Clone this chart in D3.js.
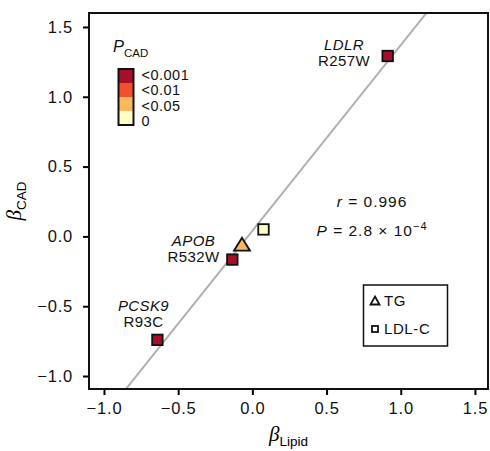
<!DOCTYPE html>
<html>
<head>
<meta charset="utf-8">
<script src="https://cdn.jsdelivr.net/npm/d3@7"></script>
<style>
  body { margin: 0; background: #fff; }
  svg { display: block; font-family: "Liberation Sans", Arial, sans-serif; }
</style>
</head>
<body>
<svg id="chart" width="490" height="451"></svg>
<script>
// ---- data ----
const variantGene   = ["LDLR", "APOB", "APOB", "", "PCSK9"];
const variantName   = ["R257W", "R532W", "", "", "R93C"];
const lipidType     = ["LDL-C", "LDL-C", "TG", "LDL-C", "LDL-C"];
const betaLipid     = [0.912, -0.135, -0.07, 0.075, -0.64];
const betaCAD       = [1.292, -0.166, -0.056, 0.05, -0.741];
const pBin          = ["<0.001", "<0.001", "<0.05", "0", "<0.001"];

const pBins   = ["<0.001", "<0.01", "<0.05", "0"];
const pColors = ["#a50f2a", "#f2502a", "#fdb95a", "#ffffc4"];
const xTicks  = [-1.0, -0.5, 0.0, 0.5, 1.0, 1.5];
const yTicks  = [-1.0, -0.5, 0.0, 0.5, 1.0, 1.5];
const fitSlope = 1.33, fitIntercept = 0.04;
const statR = "0.996";
const statP = "2.8";
const statPexp = "\u22124";

// ---- layout ----
const svg = d3.select("#chart");
const L = 89, R = 488, T = 13, B = 389;
const x = d3.scaleLinear().domain([-1.101, 1.588]).range([L, R]);
const y = d3.scaleLinear().domain([-1.093, 1.600]).range([B, T]);
const color = d3.scaleOrdinal().domain(pBins).range(pColors);
const fmt = d => d3.format(".1f")(d).replace("-", "\u2212");

// clip
svg.append("clipPath").attr("id", "clip").append("rect")
  .attr("x", L).attr("y", T).attr("width", R - L).attr("height", B - T);

// fit line
const lx = [-1.2, 1.7];
svg.append("line")
  .attr("clip-path", "url(#clip)")
  .attr("x1", x(lx[0])).attr("y1", y(fitSlope * lx[0] + fitIntercept))
  .attr("x2", x(lx[1])).attr("y2", y(fitSlope * lx[1] + fitIntercept))
  .attr("stroke", "#b0b0b0").attr("stroke-width", 2);

// axes
const xAxis = svg.append("g").attr("transform", `translate(0,${B})`)
  .call(d3.axisBottom(x).tickValues(xTicks).tickFormat(fmt).tickSize(6).tickPadding(7));
const yAxis = svg.append("g").attr("transform", `translate(${L},0)`)
  .call(d3.axisLeft(y).tickValues(yTicks).tickFormat(fmt).tickSize(6).tickPadding(10));
[xAxis, yAxis].forEach(g => {
  g.select(".domain").remove();
  g.selectAll("line").attr("stroke", "#000").attr("stroke-width", 2);
  g.selectAll("text").attr("fill", "#111").style("font-size", "16.5px")
    .style("letter-spacing", "0.8px")
    .style("font-family", "'Liberation Sans', Arial, sans-serif");
});

// frame
svg.append("rect").attr("x", L).attr("y", T).attr("width", R - L).attr("height", B - T)
  .attr("fill", "none").attr("stroke", "#111").attr("stroke-width", 2);

// axis labels
const xl = svg.append("text").attr("x", (L + R) / 2).attr("y", 441).attr("text-anchor", "middle");
xl.append("tspan").text("\u03B2").style("font-family", "'Liberation Serif', 'DejaVu Serif', serif")
  .style("font-style", "italic").style("font-size", "21px");
xl.append("tspan").text("Lipid").attr("dy", 5).style("font-size", "13.5px");

const yl = svg.append("text").attr("transform", `translate(21,${(T + B) / 2}) rotate(-90)`)
  .attr("text-anchor", "middle");
yl.append("tspan").text("\u03B2").style("font-family", "'Liberation Serif', 'DejaVu Serif', serif")
  .style("font-style", "italic").style("font-size", "21px");
yl.append("tspan").text("CAD").attr("dy", 5).style("font-size", "13.5px");

// points
const idx = d3.range(betaLipid.length);
const sq = 10.5;
const pts = svg.append("g");
idx.forEach(i => {
  const cx = x(betaLipid[i]), cy = y(betaCAD[i]);
  if (lipidType[i] === "TG") {
    pts.append("path")
      .attr("d", `M${cx},${cy - 6.5} L${cx + 8},${cy + 6.5} L${cx - 8},${cy + 6.5} Z`)
      .attr("fill", color(pBin[i])).attr("stroke", "#111").attr("stroke-width", 1.8)
      .attr("stroke-linejoin", "miter");
  } else {
    pts.append("rect").attr("x", cx - sq / 2).attr("y", cy - sq / 2)
      .attr("width", sq).attr("height", sq)
      .attr("fill", color(pBin[i])).attr("stroke", "#111").attr("stroke-width", 1.8);
  }
});

// point annotations
const labelPos = [[344, 50], [193.5, 245.7], null, null, [143.5, 311]];
idx.forEach(i => {
  if (!labelPos[i]) return;
  const [lx0, ly0] = labelPos[i];
  svg.append("text").attr("x", lx0).attr("y", ly0).attr("text-anchor", "middle")
    .style("font-size", "15px").style("font-style", "italic").style("letter-spacing", "0.4px")
    .attr("fill", "#111").text(variantGene[i]);
  svg.append("text").attr("x", lx0).attr("y", ly0 + 16.3).attr("text-anchor", "middle")
    .style("font-size", "15px").style("letter-spacing", "0.4px")
    .attr("fill", "#111").text(variantName[i]);
});

// stats
const s1 = svg.append("text").attr("x", 372).attr("y", 207).attr("text-anchor", "middle")
  .style("font-size", "15.5px").style("letter-spacing", "1px").attr("fill", "#111");
s1.append("tspan").text("r").style("font-style", "italic");
s1.append("tspan").text(" = " + statR);
const s2 = svg.append("text").attr("x", 372).attr("y", 235.5).attr("text-anchor", "middle")
  .style("font-size", "15.5px").style("letter-spacing", "1px").attr("fill", "#111");
s2.append("tspan").text("P").style("font-style", "italic");
s2.append("tspan").text(" = " + statP + " \u00D7 10");
s2.append("tspan").text(statPexp).attr("dy", -6).style("font-size", "11px");

// color legend
const lg = svg.append("g");
const lt = lg.append("text").attr("x", 113).attr("y", 52).attr("fill", "#111");
lt.append("tspan").text("P").style("font-style", "italic").style("font-size", "16.5px");
lt.append("tspan").text("CAD").attr("dy", 5).style("font-size", "11.5px");
const bx = 118.5, by = 69, bw = 15, bh = 14;
pBins.forEach((b, i) => {
  lg.append("rect").attr("x", bx).attr("y", by + i * bh).attr("width", bw).attr("height", bh)
    .attr("fill", color(b));
  lg.append("text").attr("x", 141.5).attr("y", 79.5 + i * 15.5)
    .style("font-size", "14.5px").style("letter-spacing", "0.5px").attr("fill", "#111").text(b);
});
lg.append("rect").attr("x", bx).attr("y", by).attr("width", bw).attr("height", bh * pBins.length)
  .attr("fill", "none").attr("stroke", "#111").attr("stroke-width", 2);

// shape legend
const sl = svg.append("g");
sl.append("rect").attr("x", 363.5).attr("y", 285).attr("width", 84).attr("height", 61)
  .attr("fill", "none").attr("stroke", "#111").attr("stroke-width", 1.5);
sl.append("path").attr("d", `M375,296.5 L379.5,304.5 L370.5,304.5 Z`)
  .attr("fill", "none").attr("stroke", "#111").attr("stroke-width", 1.8);
sl.append("text").attr("x", 384).attr("y", 306).style("font-size", "15px")
  .style("letter-spacing", "0.6px").attr("fill", "#111").text("TG");
sl.append("rect").attr("x", 372).attr("y", 326).attr("width", 6).attr("height", 6)
  .attr("fill", "none").attr("stroke", "#111").attr("stroke-width", 1.8);
sl.append("text").attr("x", 384).attr("y", 334).style("font-size", "15px")
  .style("letter-spacing", "0.6px").attr("fill", "#111").text("LDL-C");
</script>
</body>
</html>
